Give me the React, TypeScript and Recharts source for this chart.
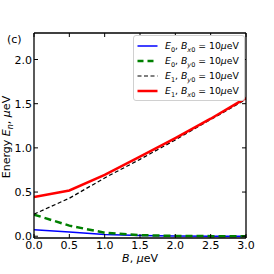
import React from "react";
import { LineChart, Line, XAxis, YAxis } from "recharts";

// magnetic field B (μeV) and level energies (μeV)
const bValues = [0, 0.5, 1.0, 1.5, 2.0, 2.5, 3.0];
const e0Bx = [0.073, 0.047, 0.02, 0.008, 0.003, 0.001, 0];
const e0By = [0.245, 0.12, 0.04, 0.012, 0.004, 0.001, 0];
const e1By = [0.25, 0.43, 0.66, 0.87, 1.09, 1.32, 1.55];
const e1Bx = [0.443, 0.518, 0.695, 0.9, 1.11, 1.33, 1.565];

const xTicks = [0, 0.5, 1.0, 1.5, 2.0, 2.5, 3.0];
const yTicks = [0, 0.5, 1.0, 1.5, 2.0];

const data = bValues.map((b, i) => ({
  b,
  e0Bx: e0Bx[i],
  e0By: e0By[i],
  e1By: e1By[i],
  e1Bx: e1Bx[i],
}));

const FONT = "'DejaVu Sans', sans-serif";
const TICK_LEN = 4;

// matplotlib style inward ticks
const BottomTick = (props: any) => {
  const { x, y, payload } = props;
  return (
    <g>
      <line x1={x} y1={y} x2={x} y2={y - TICK_LEN} stroke="#000" strokeWidth={1} />
      <text x={x} y={y + 11} textAnchor="middle" fontSize={11} fontFamily={FONT} fill="#000">
        {Number(payload.value).toFixed(1)}
      </text>
    </g>
  );
};

const LeftTick = (props: any) => {
  const { x, y, payload } = props;
  return (
    <g>
      <line x1={x} y1={y} x2={x + TICK_LEN} y2={y} stroke="#000" strokeWidth={1} />
      <text x={x - 2} y={y + 4} textAnchor="end" fontSize={11} fontFamily={FONT} fill="#000">
        {Number(payload.value).toFixed(1)}
      </text>
    </g>
  );
};

const TopTick = (props: any) => {
  const { x, y } = props;
  return <line x1={x} y1={y} x2={x} y2={y + TICK_LEN} stroke="#000" strokeWidth={1} />;
};

const RightTick = (props: any) => {
  const { x, y } = props;
  return <line x1={x} y1={y} x2={x - TICK_LEN} y2={y} stroke="#000" strokeWidth={1} />;
};

const legendItems = [
  { color: "#0000ff", dash: "", width: 1.5, e: "0", b: "x0" },
  { color: "#008000", dash: "6 4", width: 2.5, e: "0", b: "y0" },
  { color: "#000000", dash: "4 2.5", width: 1.2, e: "1", b: "y0" },
  { color: "#ff0000", dash: "", width: 2.5, e: "1", b: "x0" },
];

const subStyle: React.CSSProperties = { fontSize: 6.5, position: "relative", top: 2.5, lineHeight: 0 };

const LegendBox = () => (
  <div
    style={{
      position: "absolute",
      left: 133,
      top: 35,
      width: 107,
      border: "1px solid #d0d0d0",
      borderRadius: 3,
      background: "#fff",
      padding: "2px 0 2px 3px",
      fontFamily: FONT,
      fontSize: 9.3,
      lineHeight: "15px",
    }}
  >
    {legendItems.map((it, i) => (
      <div key={i} style={{ display: "flex", alignItems: "center", whiteSpace: "nowrap", height: 15 }}>
        <svg width={21} height={8} style={{ marginRight: 7, flexShrink: 0 }}>
          <line x1={0.5} y1={4} x2={20.5} y2={4} stroke={it.color} strokeWidth={it.width} strokeDasharray={it.dash} />
        </svg>
        <span>
          <i>E</i>
          <span style={subStyle}>{it.e}</span>, <i>B</i>
          <span style={subStyle}>
            <i>{it.b[0]}</i>
            {it.b.slice(1)}
          </span>
          {" = 10"}
          <i>μ</i>eV
        </span>
      </div>
    ))}
  </div>
);

const axisLine = { stroke: "#000", strokeWidth: 1.3 };

export default function App() {
  return (
    <div style={{ position: "absolute", left: 0, top: 0, width: 274, height: 274, background: "#fff" }}>
      <LineChart width={274} height={274} data={data} margin={{ top: 32, right: 27, bottom: 6, left: 4 }}>
        <XAxis
          xAxisId="bottom"
          dataKey="b"
          type="number"
          domain={[0, 3]}
          ticks={xTicks}
          height={30}
          tickSize={0}
          tickMargin={0}
          tickLine={false}
          axisLine={axisLine}
          tick={BottomTick}
          interval={0}
          allowDataOverflow
        />
        <XAxis
          xAxisId="top"
          orientation="top"
          dataKey="b"
          type="number"
          domain={[0, 3]}
          ticks={xTicks}
          height={1}
          tickSize={0}
          tickMargin={0}
          tickLine={false}
          axisLine={axisLine}
          tick={TopTick}
          interval={0}
          allowDataOverflow
        />
        <YAxis
          yAxisId="left"
          type="number"
          domain={[-0.02, 2.3]}
          ticks={yTicks}
          width={30}
          tickSize={0}
          tickMargin={0}
          tickLine={false}
          axisLine={axisLine}
          tick={LeftTick}
          interval={0}
          allowDataOverflow
        />
        <YAxis
          yAxisId="right"
          orientation="right"
          type="number"
          domain={[-0.02, 2.3]}
          ticks={yTicks}
          width={1}
          tickSize={0}
          tickMargin={0}
          tickLine={false}
          axisLine={axisLine}
          tick={RightTick}
          interval={0}
          allowDataOverflow
        />
        <Line xAxisId="bottom" yAxisId="left" dataKey="e0Bx" stroke="#0000ff" strokeWidth={1.5} dot={false} isAnimationActive={false} />
        <Line xAxisId="bottom" yAxisId="left" dataKey="e0By" stroke="#008000" strokeWidth={2.5} strokeDasharray="7 4" dot={false} isAnimationActive={false} />
        <Line xAxisId="bottom" yAxisId="left" dataKey="e1By" stroke="#000000" strokeWidth={1.2} strokeDasharray="4 2.5" dot={false} isAnimationActive={false} />
        <Line xAxisId="bottom" yAxisId="left" dataKey="e1Bx" stroke="#ff0000" strokeWidth={2.5} dot={false} isAnimationActive={false} />
        <text x={7} y={43} fontSize={11} fontFamily={FONT} fill="#000">(c)</text>
        <text x={140} y={262} textAnchor="middle" fontSize={11} fontFamily={FONT} fill="#000">
          <tspan fontStyle="italic">B</tspan>, <tspan fontStyle="italic">μ</tspan>eV
        </text>
        <text transform="translate(10,137) rotate(-90)" textAnchor="middle" fontSize={11} fontFamily={FONT} fill="#000">
          Energy <tspan fontStyle="italic">E</tspan>
          <tspan fontStyle="italic" fontSize={8} dy={3}>n</tspan>
          <tspan dy={-3}>, </tspan>
          <tspan fontStyle="italic">μ</tspan>eV
        </text>
      </LineChart>
      <LegendBox />
    </div>
  );
}
